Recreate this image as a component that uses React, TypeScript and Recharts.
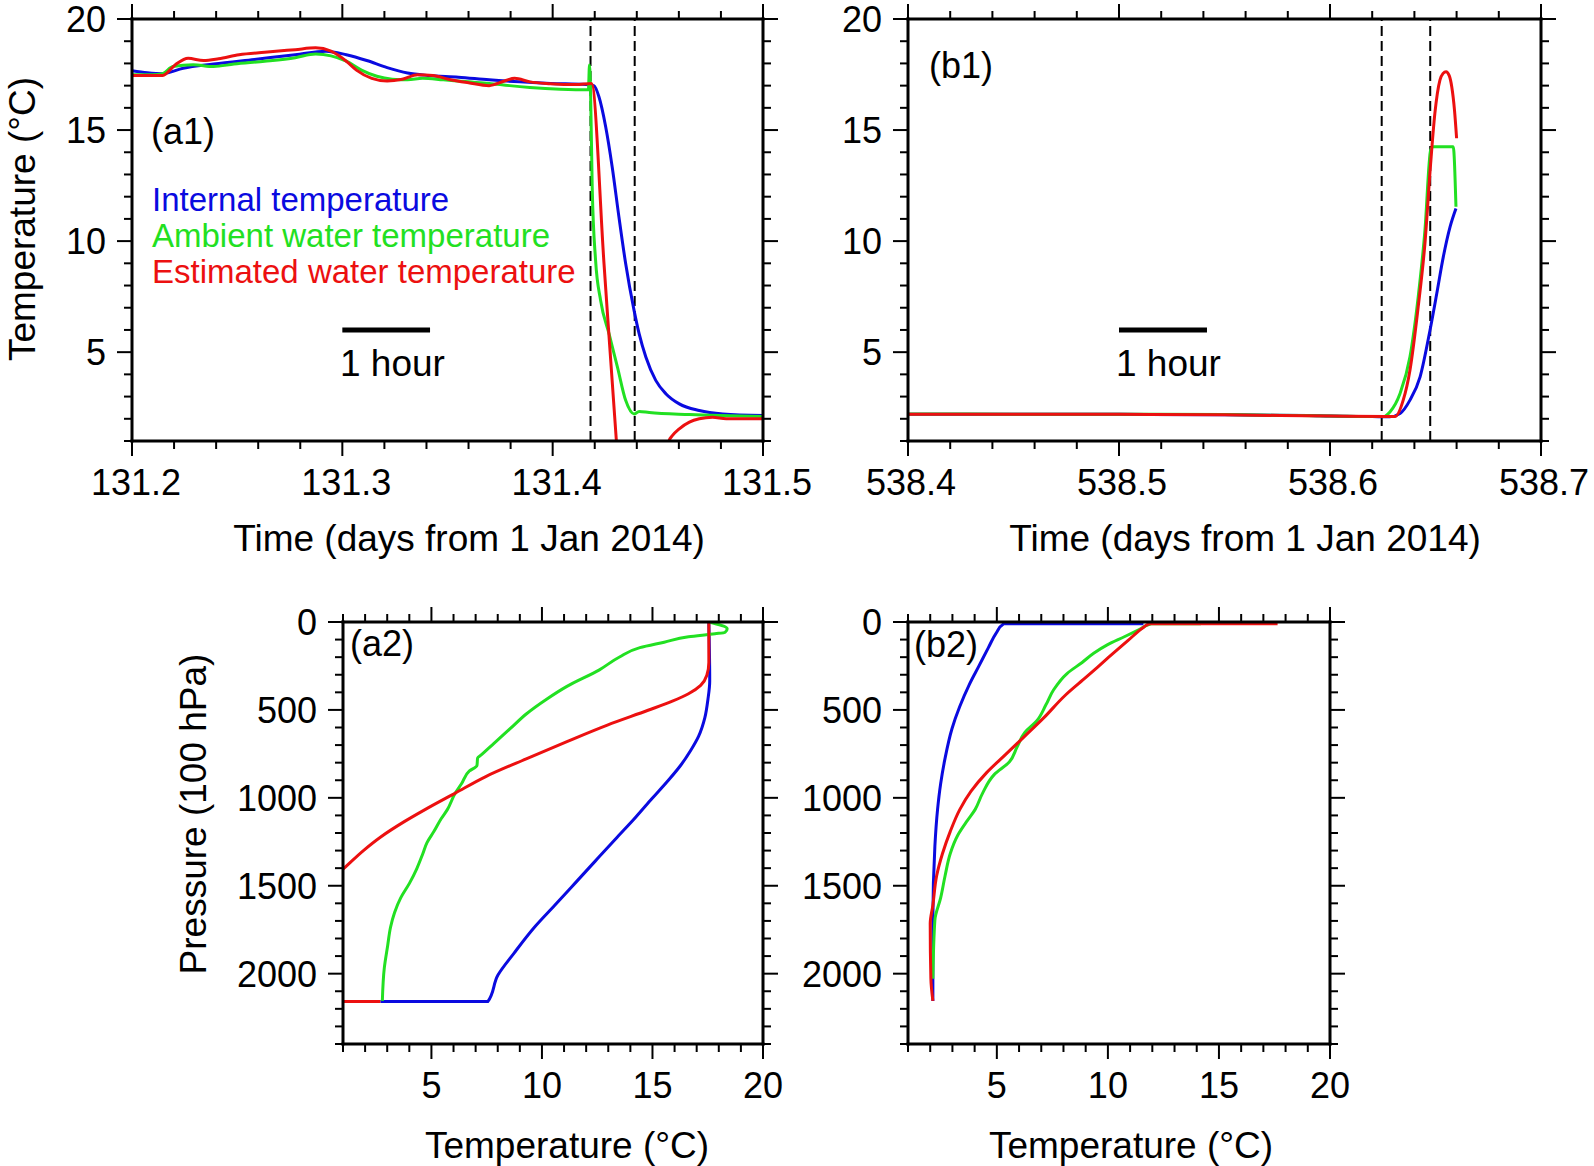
import { LineChart, Line, XAxis, YAxis, ReferenceLine } from 'recharts'

const W = 1594
const H = 1166
const FONT = '"Liberation Sans", Arial, Helvetica, sans-serif'
const BLUE = '#0a0ae0'
const GREEN = '#22e022'
const RED = '#ec1010'

// ---- tick labels ----
const A1_X_MAJOR = [131.2, 131.3, 131.4, 131.5]
const A1_X_LABELS = ['131.2', '131.3', '131.4', '131.5']
const B1_X_MAJOR = [538.4, 538.5, 538.6, 538.7]
const B1_X_LABELS = ['538.4', '538.5', '538.6', '538.7']
const T_MAJOR = [5, 10, 15, 20]
const T_LABELS = ['5', '10', '15', '20']
const P_MAJOR = [0, 500, 1000, 1500, 2000]
const P_LABELS = ['0', '500', '1000', '1500', '2000']

// minor tick positions (every 0.02 day / 1 degC / 100 hPa)
function steps(from: number, to: number, step: number) {
  const out: number[] = []
  const n = Math.round((to - from) / step)
  for (let i = 0; i <= n; i++) out.push(+(from + i * step).toFixed(4))
  return out
}
const A1_X_TICKS = steps(131.2, 131.5, 0.02)
const B1_X_TICKS = steps(538.4, 538.7, 0.02)
const T_TICKS = steps(1, 20, 1)
const P_TICKS = steps(0, 2400, 100)

// dashed markers and 1-hour scale bars (days)
const A1_MARKS = [131.418, 131.439]
const B1_MARKS = [538.6245, 538.6475]
const A1_HOUR = [131.3, 131.3417]
const B1_HOUR = [538.5, 538.5417]

// ---- (a1) time series: [day, degC] ----
const a1Internal: [number, number | null][] = [
  [131.2, 17.67], [131.2073, 17.58], [131.2146, 17.54], [131.2243, 17.78], [131.2388, 17.97],
  [131.2582, 18.18], [131.2776, 18.39], [131.2922, 18.55], [131.3019, 18.39], [131.3116, 18.13],
  [131.3213, 17.81], [131.331, 17.57], [131.3407, 17.46], [131.3552, 17.38], [131.3698, 17.26],
  [131.3843, 17.17], [131.3989, 17.1], [131.4159, 17.05], [131.4196, 17.0], [131.422, 16.5],
  [131.4252, 15.15], [131.4283, 13.34], [131.4315, 11.09], [131.4347, 8.99], [131.4387, 6.88],
  [131.4411, 5.83], [131.4443, 4.78], [131.449, 3.73], [131.4538, 3.13], [131.4602, 2.67],
  [131.4697, 2.37], [131.4809, 2.22], [131.5, 2.15],
]
const a1Ambient: [number, number | null][] = [
  [131.2, 17.49], [131.2097, 17.49], [131.2146, 17.54], [131.2194, 17.86], [131.2291, 17.94],
  [131.2388, 17.86], [131.2485, 17.97], [131.2631, 18.1], [131.2776, 18.26], [131.2873, 18.42],
  [131.2946, 18.34], [131.3019, 18.1], [131.3091, 17.7], [131.3164, 17.42], [131.3237, 17.29],
  [131.331, 17.26], [131.3382, 17.33], [131.348, 17.26], [131.36, 17.17], [131.3698, 17.1],
  [131.3795, 17.0], [131.3892, 16.92], [131.4037, 16.84], [131.417, 16.81], [131.4175, 17.93],
  [131.418, 16.8], [131.4188, 12.44], [131.4204, 9.14], [131.4228, 7.33], [131.4268, 5.83],
  [131.4308, 4.33], [131.4347, 2.83], [131.4387, 2.22], [131.4411, 2.33], [131.4459, 2.28],
  [131.465, 2.19], [131.5, 2.1],
]
const a1Estimated: [number, number | null][] = [
  [131.2, 17.46], [131.2146, 17.46], [131.2206, 17.94], [131.2267, 18.23], [131.234, 18.13],
  [131.2412, 18.21], [131.2509, 18.39], [131.2631, 18.5], [131.2776, 18.62], [131.2873, 18.7],
  [131.2946, 18.55], [131.3019, 18.1], [131.3067, 17.7], [131.314, 17.33], [131.3213, 17.21],
  [131.3285, 17.29], [131.3358, 17.49], [131.3431, 17.46], [131.3504, 17.29], [131.36, 17.13],
  [131.3698, 17.0], [131.3771, 17.21], [131.3819, 17.33], [131.3892, 17.17], [131.3989, 17.09],
  [131.411, 17.05], [131.4185, 17.1], [131.4244, 9.0], [131.4303, 1.0], [131.4311, 0],
  [131.443, null],
  [131.4545, 0], [131.4553, 1.0], [131.457, 1.25], [131.4602, 1.55], [131.465, 1.85],
  [131.4697, 2.0], [131.476, 2.07], [131.4825, 2.0], [131.5, 2.0],
]

// ---- (b1) time series ----
const b1Internal: [number, number | null][] = [
  [538.4, 2.2], [538.45, 2.2], [538.5, 2.2], [538.55, 2.18], [538.59, 2.15], [538.6, 2.12],
  [538.62, 2.1], [538.6284, 2.09], [538.6332, 2.24], [538.6379, 2.84], [538.6427, 3.89],
  [538.6474, 5.99], [538.6506, 7.64], [538.6537, 9.29], [538.6569, 10.64], [538.6597, 11.47],
]
const b1Ambient: [number, number | null][] = [
  [538.4, 2.22], [538.45, 2.21], [538.5, 2.21], [538.55, 2.19], [538.6, 2.13], [538.6253, 2.1],
  [538.6284, 2.31], [538.6332, 3.14], [538.6379, 4.79], [538.6418, 7.49], [538.645, 10.5],
  [538.6477, 14.1], [538.649, 14.25], [538.6584, 14.25], [538.6597, 11.55],
]
const b1Estimated: [number, number | null][] = [
  [538.4, 2.2], [538.45, 2.2], [538.5, 2.2], [538.55, 2.18], [538.6, 2.12], [538.6268, 2.1],
  [538.6308, 2.1], [538.6347, 2.84], [538.6379, 4.19], [538.6418, 7.04], [538.645, 9.9],
  [538.6477, 13.5], [538.6497, 15.75], [538.6521, 17.25], [538.6536, 17.55], [538.655, 17.63],
  [538.6565, 17.45], [538.6577, 16.95], [538.659, 15.9], [538.66, 14.63],
]

// ---- (a2) profiles: [degC, 100 hPa] ----
const a2Internal: [number, number | null][] = [
  [17.55, 0], [17.59, 335], [17.51, 439], [17.37, 544], [17.09, 649], [16.72, 732], [16.27, 816],
  [15.72, 900], [14.98, 1004], [14.25, 1109], [13.33, 1234], [12.41, 1360], [11.5, 1485],
  [10.58, 1611], [9.66, 1736], [8.74, 1883], [8.01, 2008], [7.55, 2159], [2.69, 2159],
]
const a2Ambient: [number, number | null][] = [
  [17.55, 0], [18.38, 38], [18.28, 59], [17.83, 67], [16.63, 84], [15.53, 115], [14.43, 146],
  [13.51, 199], [12.6, 272], [11.13, 366], [10.21, 439], [9.29, 523], [8.56, 607], [7.83, 690],
  [7.28, 753], [7.09, 774], [7.06, 816], [6.72, 847], [6.36, 920], [6.08, 973], [5.72, 1067],
  [5.44, 1119], [5.11, 1192], [4.8, 1255], [4.61, 1318], [4.34, 1402], [4.01, 1485], [3.61, 1569],
  [3.33, 1653], [3.15, 1736], [3.02, 1841], [2.87, 1966], [2.78, 2155],
]
const a2Estimated: [number, number | null][] = [
  [17.55, 0], [17.55, 230], [17.46, 303], [17.18, 360], [16.63, 408], [15.9, 450], [14.8, 502],
  [12.96, 586], [11.13, 680], [9.29, 778], [7.46, 879], [6.08, 973], [4.71, 1067], [3.79, 1134],
  [2.69, 1224], [1.95, 1297], [1.0, 1406], [0, 1520], [-6, 2159], [2.69, 2159],
]

// ---- (b2) profiles ----
const b2Internal: [number, number | null][] = [
  [2.12, 2155], [2.12, 1695], [2.21, 1276], [2.33, 1067], [2.47, 920], [2.67, 774], [2.98, 607],
  [3.33, 481], [3.76, 356], [4.19, 251], [4.62, 146], [4.97, 63], [5.31, 10], [11.6, 10],
]
const b2Ambient: [number, number | null][] = [
  [2.12, 2029], [2.21, 1695], [2.47, 1569], [2.67, 1443], [2.9, 1318], [3.24, 1213], [3.67, 1130],
  [4.02, 1067], [4.36, 973], [4.88, 868], [5.57, 795], [5.91, 711], [6.26, 628], [6.78, 565],
  [7.21, 471], [7.55, 387], [8.16, 293], [8.84, 230], [9.36, 178], [9.97, 130], [10.74, 84],
  [11.43, 42], [11.95, 10], [14.19, 10],
]
const b2Estimated: [number, number | null][] = [
  [2.12, 2155], [2.03, 2029], [2.0, 1715], [2.12, 1611], [2.29, 1443], [2.55, 1318], [2.9, 1192],
  [3.33, 1067], [3.84, 962], [4.53, 858], [5.4, 753], [6.26, 649], [7.12, 544], [8.07, 418],
  [9.02, 314], [10.05, 199], [10.91, 105], [11.6, 31], [11.86, 10], [17.64, 10],
]

const pts = (a: [number, number | null][]) => a.map(([x, y]) => ({ x, y }))

type Side = 'bottom' | 'top' | 'left' | 'right'
type Box = { left: number; top: number; right: number; bottom: number }

const AXIS_LINE = { stroke: '#000', strokeWidth: 3, strokeLinecap: 'square' as const }

function makeTick(side: Side, major: number[], labels: string[] | null, dx = 0) {
  return (p: any) => {
    const v = Number(p.payload.value)
    const i = major.findIndex((m) => Math.abs(m - v) < 1e-6)
    const len = i >= 0 ? 15 : 8
    const { x, y } = p
    let line
    if (side === 'bottom') line = <line x1={x} x2={x} y1={y} y2={y + len} />
    else if (side === 'top') line = <line x1={x} x2={x} y1={y} y2={y - len} />
    else if (side === 'left') line = <line x1={x} x2={x - len} y1={y} y2={y} />
    else line = <line x1={x} x2={x + len} y1={y} y2={y} />
    let text = null
    if (labels && i >= 0) {
      text =
        side === 'bottom' ? (
          <text x={x + dx} y={y + 54} textAnchor="middle" fontSize={36} fontFamily={FONT} fill="#000" stroke="none">
            {labels[i]}
          </text>
        ) : (
          <text x={x - 26} y={y + 13} textAnchor="end" fontSize={36} fontFamily={FONT} fill="#000" stroke="none">
            {labels[i]}
          </text>
        )
    }
    return (
      <g>
        <g stroke="#000" strokeWidth={2}>{line}</g>
        {text}
      </g>
    )
  }
}

function Panel(props: {
  box: Box
  xDomain: [number, number]
  yDomain: [number, number]
  xTicks: number[]
  xMajor: number[]
  xLabels: string[]
  xLabelShift?: number
  yTicks: number[]
  yMajor: number[]
  yLabels: string[]
  reversed?: boolean
  children: any
}) {
  const { box } = props
  const common = { type: 'number' as const, allowDataOverflow: true, interval: 0 as const, tickSize: 0, tickMargin: 0, tickLine: false, axisLine: AXIS_LINE }
  return (
    <div style={{ position: 'absolute', left: 0, top: 0 }}>
      <LineChart
        width={W}
        height={H}
        margin={{ left: box.left - 1, top: box.top - 1, right: W - box.right - 1, bottom: H - box.bottom - 1 }}
      >
        <XAxis {...common} xAxisId="b" orientation="bottom" dataKey="x" height={1} domain={props.xDomain} ticks={props.xTicks} tick={makeTick('bottom', props.xMajor, props.xLabels, props.xLabelShift ?? 0)} />
        <XAxis {...common} xAxisId="t" orientation="top" dataKey="x" height={1} domain={props.xDomain} ticks={props.xTicks} tick={makeTick('top', props.xMajor, null)} />
        <YAxis {...common} yAxisId="l" orientation="left" width={1} domain={props.yDomain} reversed={props.reversed} ticks={props.yTicks} tick={makeTick('left', props.yMajor, props.yLabels)} />
        <YAxis {...common} yAxisId="r" orientation="right" width={1} domain={props.yDomain} reversed={props.reversed} ticks={props.yTicks} tick={makeTick('right', props.yMajor, null)} />
        {props.children}
      </LineChart>
    </div>
  )
}

function series(data: [number, number | null][], color: string, key: string, curve: 'monotoneX' | 'monotoneY') {
  return (
    <Line
      key={key}
      xAxisId="b"
      yAxisId="l"
      data={pts(data)}
      dataKey="y"
      type={curve}
      stroke={color}
      strokeWidth={3}
      dot={false}
      activeDot={false}
      isAnimationActive={false}
    />
  )
}

function marks(xs: number[], hour: number[], prefix: string) {
  return [
    ...xs.map((x, i) => (
      <ReferenceLine key={prefix + 'm' + i} xAxisId="b" yAxisId="l" x={x} stroke="#000" strokeWidth={2} strokeDasharray="10 5" />
    )),
    <ReferenceLine
      key={prefix + 'h'}
      xAxisId="b"
      yAxisId="l"
      segment={[{ x: hour[0], y: 6 }, { x: hour[1], y: 6 }]}
      stroke="#000"
      strokeWidth={5}
    />,
  ]
}

const A1_BOX = { left: 132, top: 19, right: 763, bottom: 441 }
const B1_BOX = { left: 908, top: 19, right: 1541, bottom: 441 }
const A2_BOX = { left: 343, top: 622, right: 763, bottom: 1044 }
const B2_BOX = { left: 908, top: 622, right: 1330, bottom: 1044 }

const txt = { fontFamily: FONT, fill: '#000' }

export default function App() {
  return (
    <div style={{ position: 'absolute', left: 0, top: 0, width: W, height: H, background: '#fff', overflow: 'hidden' }}>
      <Panel box={A1_BOX} xDomain={[131.2, 131.5]} yDomain={[1, 20]} xTicks={A1_X_TICKS} xMajor={A1_X_MAJOR} xLabels={A1_X_LABELS} xLabelShift={4} yTicks={T_TICKS} yMajor={T_MAJOR} yLabels={T_LABELS}>
        {marks(A1_MARKS, A1_HOUR, 'a1')}
        {series(a1Internal, BLUE, 'a1i', 'monotoneX')}
        {series(a1Ambient, GREEN, 'a1a', 'monotoneX')}
        {series(a1Estimated, RED, 'a1e', 'monotoneX')}
      </Panel>
      <Panel box={B1_BOX} xDomain={[538.4, 538.7]} yDomain={[1, 20]} xTicks={B1_X_TICKS} xMajor={B1_X_MAJOR} xLabels={B1_X_LABELS} xLabelShift={3} yTicks={T_TICKS} yMajor={T_MAJOR} yLabels={T_LABELS}>
        {marks(B1_MARKS, B1_HOUR, 'b1')}
        {series(b1Internal, BLUE, 'b1i', 'monotoneX')}
        {series(b1Ambient, GREEN, 'b1a', 'monotoneX')}
        {series(b1Estimated, RED, 'b1e', 'monotoneX')}
      </Panel>
      <Panel box={A2_BOX} xDomain={[1, 20]} yDomain={[0, 2400]} reversed xTicks={T_TICKS} xMajor={T_MAJOR} xLabels={T_LABELS} yTicks={P_TICKS} yMajor={P_MAJOR} yLabels={P_LABELS}>
        {series(a2Internal, BLUE, 'a2i', 'monotoneY')}
        {series(a2Ambient, GREEN, 'a2a', 'monotoneY')}
        {series(a2Estimated, RED, 'a2e', 'monotoneY')}
      </Panel>
      <Panel box={B2_BOX} xDomain={[1, 20]} yDomain={[0, 2400]} reversed xTicks={T_TICKS} xMajor={T_MAJOR} xLabels={T_LABELS} yTicks={P_TICKS} yMajor={P_MAJOR} yLabels={P_LABELS}>
        {series(b2Internal, BLUE, 'b2i', 'monotoneY')}
        {series(b2Ambient, GREEN, 'b2a', 'monotoneY')}
        {series(b2Estimated, RED, 'b2e', 'monotoneY')}
      </Panel>
      <svg width={W} height={H} style={{ position: 'absolute', left: 0, top: 0, pointerEvents: 'none' }}>
        <text {...txt} fontSize={37} transform="translate(35 219) rotate(-90)" textAnchor="middle">Temperature (°C)</text>
        <text {...txt} fontSize={37} x={469} y={551} textAnchor="middle">Time (days from 1 Jan 2014)</text>
        <text {...txt} fontSize={37} x={1245} y={551} textAnchor="middle">Time (days from 1 Jan 2014)</text>
        <text {...txt} fontSize={37} transform="translate(206 814) rotate(-90)" textAnchor="middle">Pressure (100 hPa)</text>
        <text {...txt} fontSize={37} x={567} y={1158} textAnchor="middle">Temperature (°C)</text>
        <text {...txt} fontSize={37} x={1131} y={1158} textAnchor="middle">Temperature (°C)</text>
        <text {...txt} fontSize={33} x={152} y={211} fill={BLUE}>Internal temperature</text>
        <text {...txt} fontSize={33} x={152} y={247} fill={GREEN}>Ambient water temperature</text>
        <text {...txt} fontSize={33} x={152} y={283} fill={RED}>Estimated water temperature</text>
        <text {...txt} fontSize={36} x={151} y={144}>(a1)</text>
        <text {...txt} fontSize={36} x={929} y={78}>(b1)</text>
        <text {...txt} fontSize={36} x={350} y={656}>(a2)</text>
        <text {...txt} fontSize={36} x={914} y={657}>(b2)</text>
        <text {...txt} fontSize={37} x={340} y={376}>1 hour</text>
        <text {...txt} fontSize={37} x={1116} y={376}>1 hour</text>
      </svg>
    </div>
  )
}
